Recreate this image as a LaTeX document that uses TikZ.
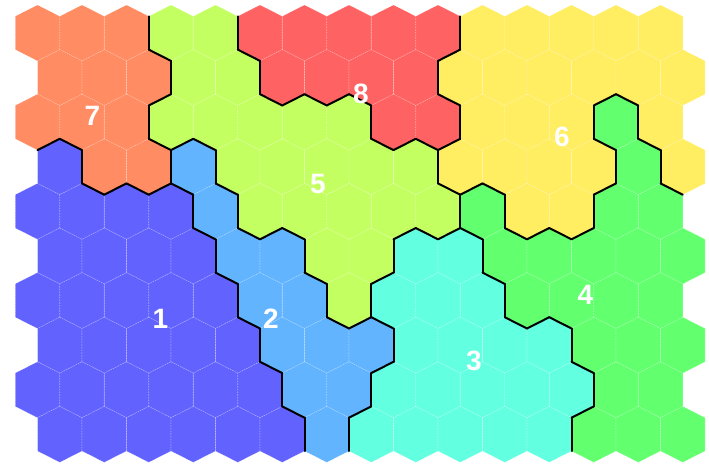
\documentclass[tikz,border=0pt]{standalone}
\usepackage{fontspec}
\setmainfont{Liberation Sans}
\definecolor{reg1}{RGB}{98,98,255}
\definecolor{reg2}{RGB}{98,180,255}
\definecolor{reg3}{RGB}{98,255,224}
\definecolor{reg4}{RGB}{98,255,110}
\definecolor{reg5}{RGB}{196,255,98}
\definecolor{reg6}{RGB}{255,237,98}
\definecolor{reg7}{RGB}{255,140,98}
\definecolor{reg8}{RGB}{255,98,98}
\def\regmap{{7,7,7,5,5,8,8,8,8,8,6,6,6,6,6,
7,7,7,5,5,8,8,8,8,6,6,6,6,6,6,
7,7,7,5,5,5,5,5,8,8,6,6,6,4,6,
1,7,7,2,5,5,5,5,5,6,6,6,6,4,6,
1,1,1,1,2,5,5,5,5,5,4,6,6,4,4,
1,1,1,1,2,2,5,5,3,3,4,4,4,4,4,
1,1,1,1,1,2,2,5,3,3,3,4,4,4,4,
1,1,1,1,1,2,2,2,3,3,3,3,4,4,4,
1,1,1,1,1,1,2,2,3,3,3,3,3,4,4,
1,1,1,1,1,1,2,3,3,3,3,3,4,4,4}}
\def\hexpath{(0,-27.95) -- (22.25,-16.65) -- (22.25,16.65) -- (0,27.95) -- (-22.25,16.65) -- (-22.25,-16.65) -- cycle}
\tikzset{
  hexgrid/.style={draw=white, draw opacity=0.3, line width=0.6pt, dash pattern=on 1.5pt off 1.2pt},
  border/.style={draw=black, line width=2pt, line cap=round},
  lbl/.style={text=white, font=\fontsize{28}{28}\selectfont\bfseries, inner sep=0pt}
}
\begin{document}
\begin{tikzpicture}[x=1pt,y=-1pt]
\useasboundingbox (0,0) rectangle (709,463);
% fills and faint grid
\foreach \r in {0,...,9}{
  \foreach \c in {0,...,14}{
    \pgfmathtruncatemacro\reg{\regmap[\r*15+\c]}
    \pgfmathsetmacro\cx{37.5+44.5*\c+22.25*mod(\r,2)}
    \pgfmathsetmacro\cy{32.95+44.6*\r}
    \begin{scope}[shift={(\cx,\cy)}]
      \fill[reg\reg] \hexpath;
      \draw[hexgrid] \hexpath;
    \end{scope}
  }
}
% region borders
\foreach \r in {0,...,9}{
  \foreach \c in {0,...,14}{
    \pgfmathtruncatemacro\reg{\regmap[\r*15+\c]}
    \pgfmathsetmacro\cx{37.5+44.5*\c+22.25*mod(\r,2)}
    \pgfmathsetmacro\cy{32.95+44.6*\r}
    \ifnum\c<14
      \pgfmathtruncatemacro\nb{\regmap[\r*15+\c+1]}
      \ifnum\nb=\reg\else
        \draw[border] (\cx+22.25,\cy-16.65) -- (\cx+22.25,\cy+16.65);
      \fi
    \fi
    \ifnum\r<9
      \pgfmathtruncatemacro\odd{mod(\r,2)}
      \pgfmathtruncatemacro\llc{\c-1+\odd}
      \pgfmathtruncatemacro\lrc{\c+\odd}
      \ifnum\llc>-1
        \pgfmathtruncatemacro\nb{\regmap[(\r+1)*15+\llc]}
        \ifnum\nb=\reg\else
          \draw[border] (\cx-22.25,\cy+16.65) -- (\cx,\cy+27.95);
        \fi
      \fi
      \ifnum\lrc<15
        \pgfmathtruncatemacro\nb{\regmap[(\r+1)*15+\lrc]}
        \ifnum\nb=\reg\else
          \draw[border] (\cx,\cy+27.95) -- (\cx+22.25,\cy+16.65);
        \fi
      \fi
    \fi
  }
}
% labels
\node[lbl] (n1) at (160.5,319) {1};
\node[lbl] (n2) at (271,319) {2};
\node[lbl] (n3) at (474,361) {3};
\node[lbl] (n4) at (585.5,295) {4};
\node[lbl] (n5) at (318,184) {5};
\node[lbl] (n6) at (562,137) {6};
\node[lbl] (n7) at (92.5,116) {7};
\node[lbl] (n8) at (361,93.5) {8};
\end{tikzpicture}
\end{document}
